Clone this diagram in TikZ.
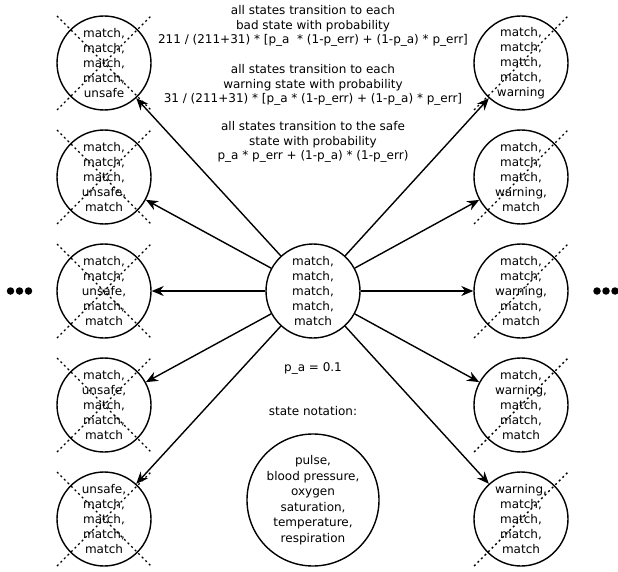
\documentclass[tikz,border=0pt]{standalone}
\usepackage{fontspec}
\setmainfont{DejaVu Sans}
\usetikzlibrary{arrows.meta}

\begin{document}
\begin{tikzpicture}[x=1pt,y=-1pt]
      \tikzset{
        state/.style={circle,draw,line width=1.4pt,minimum size=94pt,
          inner sep=0pt,align=center,font=\fontsize{12}{15}\selectfont},
        trans/.style={-{Stealth[length=12pt,width=10pt]},line width=1.4pt},
        cross/.style={dash pattern=on 2pt off 3pt,line width=1.4pt},
        note/.style={align=center,font=\fontsize{12}{14.6}\selectfont},
        dot/.style={circle,fill,inner sep=0pt,minimum size=7.5pt}
      }
      \useasboundingbox (0,0) rectangle (618,572);
      % current state
      \node[state] (c) at (313,291) {match,\\match,\\match,\\match,\\match};
      % bad states
      \node[state] (l1) at (104,63) {match,\\match,\\match,\\match,\\unsafe};
      \node[state] (l2) at (104,177) {match,\\match,\\match,\\unsafe,\\match};
      \node[state] (l3) at (104,291) {match,\\match,\\unsafe,\\match,\\match};
      \node[state] (l4) at (104,405) {match,\\unsafe,\\match,\\match,\\match};
      \node[state] (l5) at (104,519) {unsafe,\\match,\\match,\\match,\\match};
      % warning states
      \node[state] (r1) at (521,63) {match,\\match,\\match,\\match,\\warning};
      \node[state] (r2) at (521,177) {match,\\match,\\match,\\warning,\\match};
      \node[state] (r3) at (521,291) {match,\\match,\\warning,\\match,\\match};
      \node[state] (r4) at (521,405) {match,\\warning,\\match,\\match,\\match};
      \node[state] (r5) at (521,519) {warning,\\match,\\match,\\match,\\match};
      % crossed out
      \foreach \s in {l1,l2,l3,l4,l5} {
        \draw[cross] ([shift={(-47,-47)}]\s.center) -- ([shift={(47,47)}]\s.center);
        \draw[cross] ([shift={(-47,47)}]\s.center) -- ([shift={(47,-47)}]\s.center);
      }
      \foreach \s in {r1,r2,r3,r4,r5} {
        \draw[cross] ([shift={(-47,47)}]\s.center) -- ([shift={(47,-47)}]\s.center);
      }
      % transitions
      \foreach \s in {l1,l2,l3,l4,l5,r1,r2,r3,r4,r5} {
        \draw[trans] (c) -- (\s);
      }
      % more states
      \node[dot] (ld1) at (10.5,291) {};
      \node[dot] (ld2) at (19.5,291) {};
      \node[dot] (ld3) at (28.5,291) {};
      \node[dot] (rd1) at (597,291) {};
      \node[dot] (rd2) at (606,291) {};
      \node[dot] (rd3) at (615,291) {};
      % probabilities
      \node[note] (bad) at (313,26) {all states transition to each\\bad state with probability\\211 / (211+31) * [p\_a~ * (1-p\_err) + (1-p\_a) * p\_err]};
      \node[note] (warn) at (313,85) {all states transition to each\\warning state with probability\\31 / (211+31) * [p\_a * (1-p\_err) + (1-p\_a) * p\_err]};
      \node[note] (safe) at (313,142) {all states transition to the safe\\state with probability\\p\_a * p\_err + (1-p\_a) * (1-p\_err)};
      \node[note] (pa) at (313,368) {p\_a = 0.1};
      % notation
      \node[note] (nt) at (313,411) {state notation:};
      \node[state,minimum size=132pt,font=\fontsize{12}{15.5}\selectfont] (n) at (313,500) {pulse,\\blood pressure,\\oxygen\\saturation,\\temperature,\\respiration};
    \end{tikzpicture}
\end{document}
